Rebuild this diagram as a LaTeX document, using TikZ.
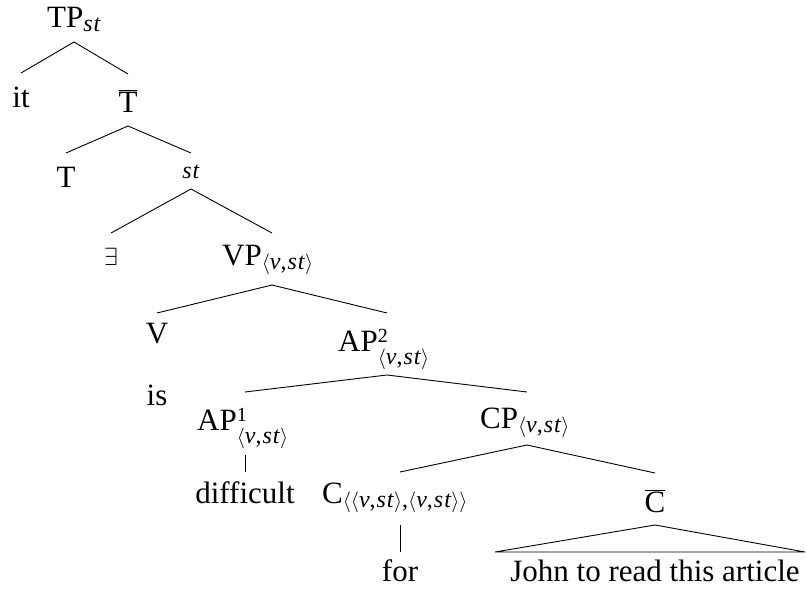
\documentclass[tikz,border=0pt]{standalone}
\usepackage{fontspec}
\setmainfont{Liberation Serif}
\newcommand\scr{\fontsize{24}{24}\selectfont}
\newcommand\scs{\fontsize{20}{20}\selectfont}
\newcommand\la{{\fontsize{20}{20}\selectfont$\langle$}}
\newcommand\ra{{\fontsize{20}{20}\selectfont$\rangle$}}
\newcommand\sbs[1]{\raisebox{-4pt}{\scr #1}}
\newcommand\ssb[2]{\rlap{\raisebox{9pt}{\scs #1}}\raisebox{-13pt}{\scr #2}}
\newcommand\vv{\textit{v},\kern1pt\textit{s}\kern1pt\textit{t}}
\newcommand\vst{\la\vv\ra}
\begin{document}
\begin{tikzpicture}[x=1pt,y=-1pt,
  every node/.style={inner sep=0pt, font=\fontsize{31}{31}\selectfont},
  lbl/.style={anchor=base},
  lblw/.style={anchor=base west},
  br/.style={line width=0.9pt, line join=miter}]
\useasboundingbox (0,0) rectangle (806,590);

% labels
\node[lblw] (tp) at (47,27) {TP\sbs{\textit{s}\kern1pt\textit{t}}};
\node[lbl] (it) at (21,107) {it};
\node[lbl] (tbar) at (128,112) {$\overline{\mbox{T}}$};
\node[lbl] (t) at (66,187) {T};
\node[lbl] (st) at (191,178) {\scr\textit{s}\kern1pt\textit{t}};
\node[lbl] (ex) at (111,265) {$\exists$};
\node[lblw] (vp) at (222,265) {VP\sbs{\vst}};
\node[lbl] (v) at (157,343) {V};
\node[lblw] (ap2) at (338,351) {AP\ssb{2}{\vst}};
\node[lbl] (is) at (157,405) {is};
\node[lblw] (ap1) at (197,430) {AP\ssb{1}{\vst}};
\node[lblw] (cp) at (480,428) {CP\sbs{\vst}};
\node[lbl] (diff) at (245,503) {difficult};
\node[lblw] (c) at (322,503) {C\sbs{\la\la\vv\ra,\la\vv\ra\ra}};
\node[lbl] (cbar) at (655,512) {$\overline{\mbox{C}}$};
\node[lbl] (for) at (400,581) {for};
\node[lbl] (john) at (655,581) {John to read this article};

% branch points
\coordinate (tp-a) at (74,42);
\coordinate (it-e) at (21,73);
\coordinate (tbar-e) at (128,74);
\coordinate (tbar-a) at (128,126);
\coordinate (t-e) at (66,153);
\coordinate (st-e) at (191,153);
\coordinate (st-a) at (191,189);
\coordinate (ex-e) at (111,233);
\coordinate (vp-e) at (272,233);
\coordinate (vp-a) at (272,285);
\coordinate (v-e) at (157,313);
\coordinate (ap2-e) at (387,313);
\coordinate (ap2-a) at (387,375);
\coordinate (ap1-e) at (245,392);
\coordinate (cp-e) at (527,392);
\coordinate (ap1-a) at (245,455);
\coordinate (diff-e) at (245,472);
\coordinate (cp-a) at (527,445);
\coordinate (c-e) at (400,472);
\coordinate (cbar-e) at (655,473);
\coordinate (c-a) at (400,525);
\coordinate (for-e) at (400,552);
\coordinate (cbar-a) at (655,525);
\coordinate (john-l) at (495,552);
\coordinate (john-r) at (805,552);

% branches
\draw[br] (it-e) -- (tp-a) -- (tbar-e);
\draw[br] (t-e) -- (tbar-a) -- (st-e);
\draw[br] (ex-e) -- (st-a) -- (vp-e);
\draw[br] (v-e) -- (vp-a) -- (ap2-e);
\draw[br] (ap1-e) -- (ap2-a) -- (cp-e);
\draw[br] (ap1-a) -- (diff-e);
\draw[br] (c-e) -- (cp-a) -- (cbar-e);
\draw[br] (c-a) -- (for-e);
\draw[br] (cbar-a) -- (john-l) -- (john-r) -- cycle;
\end{tikzpicture}
\end{document}
